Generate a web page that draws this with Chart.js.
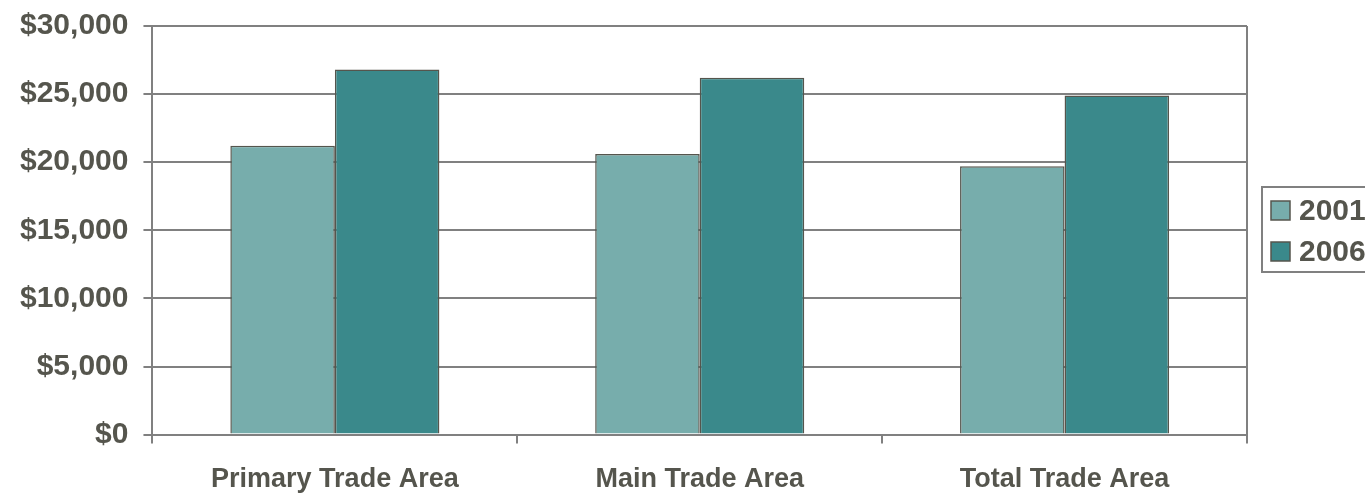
<!DOCTYPE html>
<html>
<head>
<meta charset="utf-8">
<script src="https://cdn.jsdelivr.net/npm/chart.js@4.4.0/dist/chart.umd.min.js"></script>
<style>
  html, body { margin: 0; padding: 0; background: #fff; overflow: hidden; }
  #wrap { width: 1365px; height: 493px; overflow: hidden; }
  #chart { display: block; margin-top: -7px; }
</style>
</head>
<body>
<div id="wrap"><canvas id="chart" width="1365" height="523"></canvas></div>
<script>
// Values
const categories = ['Primary Trade Area', 'Main Trade Area', 'Total Trade Area'];
const series2001 = [21200, 20600, 19700];
const series2006 = [26800, 26200, 24900];
const yTicks = [0, 5000, 10000, 15000, 20000, 25000, 30000];

const textColor = '#55554d';
const lineColor = '#808080';
const fontFamily = 'Liberation Sans, Arial, sans-serif';

// right edge of the plot, plus a framed legend that runs off the page like the original
const framePlugin = {
  id: 'frame',
  afterDraw(chart) {
    const ctx = chart.ctx;
    const a = chart.chartArea;
    ctx.save();
    ctx.strokeStyle = lineColor;
    ctx.lineWidth = 2;
    ctx.beginPath();
    ctx.moveTo(a.right, a.top);
    ctx.lineTo(a.right, a.bottom);
    ctx.stroke();

    const left = a.right + 15;
    const top = 194;
    ctx.strokeRect(left, top, 200, 85);
    ctx.font = 'bold 30px ' + fontFamily;
    ctx.textBaseline = 'middle';
    chart.data.datasets.forEach((ds, i) => {
      const y = top + 24 + i * 41;
      ctx.fillStyle = ds.backgroundColor;
      ctx.fillRect(left + 9, y - 10, 19, 19);
      ctx.strokeStyle = ds.borderColor;
      ctx.lineWidth = 1.5;
      ctx.strokeRect(left + 9, y - 10, 19, 19);
      ctx.fillStyle = textColor;
      ctx.fillText(ds.label, left + 37, y + 1);
    });
    ctx.restore();
  }
};

new Chart(document.getElementById('chart').getContext('2d'), {
  type: 'bar',
  data: {
    labels: categories,
    datasets: [
      {
        label: '2001',
        data: series2001,
        backgroundColor: '#77adac',
        borderColor: '#55554d',
        borderWidth: 1.5
      },
      {
        label: '2006',
        data: series2006,
        backgroundColor: '#3a898b',
        borderColor: '#55554d',
        borderWidth: 1.5
      }
    ]
  },
  options: {
    responsive: false,
    devicePixelRatio: 1,
    animation: false,
    layout: { padding: { top: 0, right: 118, left: 5, bottom: 0 } },
    datasets: {
      bar: { barPercentage: 1, categoryPercentage: 0.573 }
    },
    plugins: {
      tooltip: { enabled: false },
      legend: { display: false }
    },
    scales: {
      x: {
        grid: {
          offset: true,
          drawOnChartArea: false,
          color: lineColor,
          lineWidth: 2,
          tickLength: 9
        },
        border: { color: lineColor, width: 2 },
        ticks: {
          color: textColor,
          padding: 20,
          maxRotation: 0,
          font: { family: fontFamily, size: 27, weight: 'bold' }
        }
      },
      y: {
        min: 0,
        max: 30000,
        afterBuildTicks(axis) {
          axis.ticks = yTicks.map(v => ({ value: v }));
        },
        grid: {
          color: lineColor,
          lineWidth: 2,
          tickLength: 9
        },
        border: { color: lineColor, width: 2 },
        ticks: {
          color: textColor,
          padding: 15,
          font: { family: fontFamily, size: 30, weight: 'bold' },
          callback: v => '$' + v.toLocaleString('en-US')
        }
      }
    }
  },
  plugins: [framePlugin]
});
</script>
</body>
</html>
